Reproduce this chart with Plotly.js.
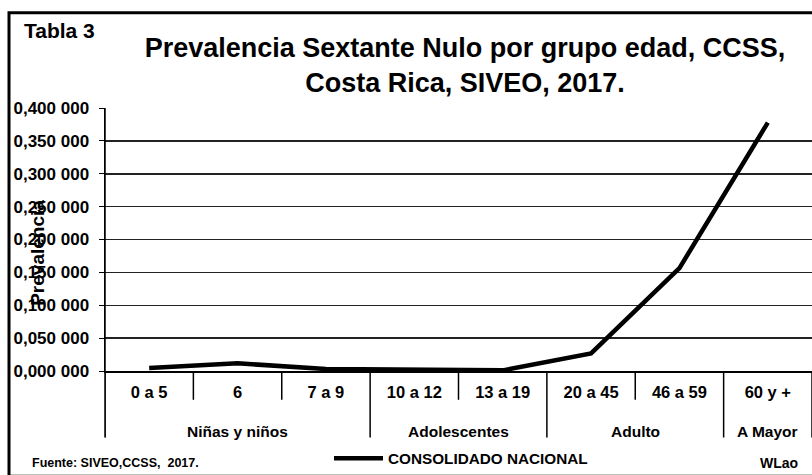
<!DOCTYPE html>
<html>
<head>
<meta charset="utf-8">
<script src="https://cdn.plot.ly/plotly-3.0.1.min.js"></script>
<style>html,body{margin:0;padding:0;background:#fff;}#chart{width:812px;height:475px;}</style>
</head>
<body>
<div id="chart"></div>
<script>
// ---- data ----
const categories = ["0 a 5", "6", "7 a 9", "10 a 12", "13 a 19", "20 a 45", "46 a 59", "60 y +"];
const prevalencia = [0.0045, 0.0117, 0.0030, 0.0015, 0.0010, 0.0267, 0.1565, 0.3777];
const groupLabels = ["Niñas y niños", "Adolescentes", "Adulto", "A Mayor"];
const groupCenters = [1, 3.5, 5.5, 7];
const groupBounds = [-0.5, 2.5, 4.5, 6.5, 7.5];
const yTickVals = [0, 0.05, 0.1, 0.15, 0.2, 0.25, 0.3, 0.35, 0.4];
const yTickText = ["0,000 000", "0,050 000", "0,100 000", "0,150 000", "0,200 000", "0,250 000", "0,300 000", "0,350 000", "0,400 000"];
const seriesName = "CONSOLIDADO NACIONAL";

const idx = categories.map((c, i) => i);
const F = "Liberation Sans, Arial, sans-serif";
const px2x = p => (p - 105) / 707;
const px2y = p => (373 - p) / 265;

const shapes = [];
for (let i = 0; i <= categories.length; i++) {
  const b = i - 0.5;
  const isGroup = groupBounds.includes(b);
  shapes.push({type: "line", xref: "x", yref: "paper", x0: b, x1: b, y0: 0, y1: isGroup ? px2y(440) : px2y(402),
    line: {color: "#000", width: 1.5}});
}
shapes.push({type: "line", xref: "paper", yref: "paper", x0: 0, x1: 0, y0: px2y(440), y1: 1, line: {color: "#000", width: 1.5}});
shapes.push({type: "rect", xref: "paper", yref: "paper", x0: px2x(9), x1: px2x(816), y0: px2y(479), y1: px2y(12),
  line: {color: "#000", width: 3}});

const annotations = groupLabels.map((g, i) => ({
  text: g, xref: "x", yref: "paper", x: groupCenters[i], y: px2y(434), showarrow: false,
  xanchor: "center", yanchor: "middle", font: {family: F, size: 15.5, color: "#000", weight: "bold"}
}));
annotations.push({text: "Tabla 3", xref: "paper", yref: "paper", x: px2x(22), y: px2y(30),
  xanchor: "left", yanchor: "middle", showarrow: false, font: {family: F, size: 21, color: "#000", weight: "bold"}});
annotations.push({text: "Fuente: SIVEO,CCSS,  2017.", xref: "paper", yref: "paper", x: px2x(30), y: px2y(466),
  xanchor: "left", yanchor: "middle", showarrow: false, font: {family: F, size: 12.5, color: "#000", weight: "bold"}});
annotations.push({text: "WLao", xref: "paper", yref: "paper", x: px2x(800), y: px2y(466),
  xanchor: "right", yanchor: "middle", showarrow: false, font: {family: F, size: 14, color: "#000", weight: "bold"}});

const trace = {
  x: idx, y: prevalencia, type: "scatter", mode: "lines", name: seriesName,
  line: {color: "#000", width: 4.5, shape: "linear"}
};

const layout = {
  width: 812, height: 475,
  margin: {l: 105, r: 0, t: 108, b: 102},
  paper_bgcolor: "#fff", plot_bgcolor: "#fff",
  title: {text: "Prevalencia Sextante Nulo por grupo edad, CCSS,<br>Costa Rica, SIVEO, 2017.",
    xref: "paper", x: px2x(465), xanchor: "center",
    yref: "container", y: 1 - 57 / 475, yanchor: "middle",
    font: {family: F, size: 27, color: "#000", weight: "bold"}},
  showlegend: true,
  legend: {orientation: "h", x: px2x(329), y: px2y(461), xanchor: "left", yanchor: "middle",
    font: {family: F, size: 15.3, color: "#000", weight: "bold"}, bgcolor: "rgba(0,0,0,0)", itemwidth: 49},
  xaxis: {
    range: [-0.5, 7.5], tickvals: idx, ticktext: categories, ticks: "", showgrid: false, zeroline: false,
    showline: true, linecolor: "#000", linewidth: 1.5, fixedrange: true, ticklabelstandoff: 6,
    tickfont: {family: F, size: 16.5, color: "#000", weight: "bold"}
  },
  yaxis: {
    range: [0, 0.4], tickvals: yTickVals, ticktext: yTickText, ticks: "outside", ticklen: 5, tickcolor: "#000",
    ticklabelstandoff: 6,
    showgrid: true, gridcolor: "#222", gridwidth: 1.5, zeroline: false, showline: true, linecolor: "#000", linewidth: 1.5,
    tickfont: {family: F, size: 17, color: "#000", weight: "bold"},
    title: {text: "Prevalencia", standoff: 0, font: {family: F, size: 19, color: "#000", weight: "bold"}},
    fixedrange: true
  },
  shapes: shapes,
  annotations: annotations
};

Plotly.newPlot("chart", [trace], layout, {displayModeBar: false, staticPlot: true}).then(() => {
  const t = document.querySelector(".g-ytitle text");
  if (t) {
    t.setAttribute("x", 35);
    t.setAttribute("y", 253);
    t.setAttribute("transform", "rotate(-90,35,253)");
  }
});
</script>
</body>
</html>
